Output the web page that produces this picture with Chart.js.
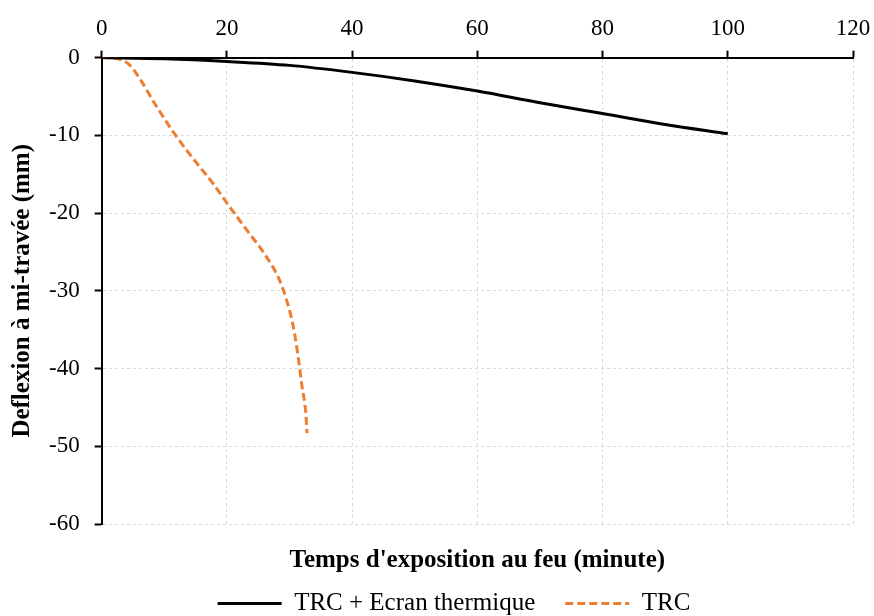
<!DOCTYPE html>
<html>
<head>
<meta charset="utf-8">
<script src="https://cdn.jsdelivr.net/npm/chart.js@4/dist/chart.umd.min.js"></script>
<style>
  html, body { margin: 0; padding: 0; background: #fff; }
  #wrap { width: 874px; height: 616px; }
</style>
</head>
<body>
<div id="wrap"><canvas id="myChart"></canvas></div>
<script>
// series (x = minutes, y = mm)
var ecranX = [0, 10, 20, 30, 40, 50, 60, 70, 80, 90, 100];
var ecranY = [0, -0.15, -0.5, -1.0, -1.9, -3.0, -4.3, -5.8, -7.2, -8.6, -9.8];

var trcX = [0, 2.8, 4.4, 6.0, 8.7, 11.9, 15.1, 17.7, 20.0, 23.1, 26.3, 28.4, 29.5, 30.5, 31.3, 32.0, 32.6, 32.8];
var trcY = [0, -0.2, -0.9, -2.6, -6.2, -10.1, -13.5, -16.1, -18.7, -22.1, -25.6, -28.6, -31.1, -34.2, -38.0, -42.3, -45.7, -48.3];

var labels = ['TRC + Ecran thermique', 'TRC'];

function pts(xs, ys) {
    return xs.map(function (x, i) { return {x: x, y: ys[i]}; });
}

var serif = "'Liberation Serif', 'DejaVu Serif', serif";
Chart.defaults.font.family = serif;
Chart.defaults.color = '#000';

var ctx = document.getElementById("myChart").getContext("2d");

var myChart = new Chart(ctx, {
    type: 'line',
    data: {
        datasets: [{
            label: labels[0],
            data: pts(ecranX, ecranY),
            borderColor: '#000000',
            backgroundColor: '#000000',
            borderWidth: 3,
            pointRadius: 0,
            cubicInterpolationMode: 'monotone'
        }, {
            label: labels[1],
            data: pts(trcX, trcY),
            borderColor: '#ED7D31',
            backgroundColor: '#ED7D31',
            borderWidth: 3,
            borderDash: [8, 4],
            pointRadius: 0,
            cubicInterpolationMode: 'monotone'
        }]
    },
    options: {
        responsive: true,
        maintainAspectRatio: false,
        animation: false,
        // negative right padding only moves the legend centre to the right
        layout: { padding: { left: 6, right: -28, top: 7, bottom: -10 } },
        plugins: {
            tooltip: { enabled: false },
            legend: {
                position: 'bottom',
                labels: {
                    usePointStyle: true,
                    pointStyle: 'line',
                    pointStyleWidth: 64,
                    font: { size: 25 },
                    color: '#000',
                    padding: 30,
                    generateLabels: function (chart) {
                        var items = Chart.defaults.plugins.legend.labels.generateLabels(chart);
                        items.forEach(function (it) {
                            var ds = chart.data.datasets[it.datasetIndex];
                            it.lineDash = ds.borderDash || [];
                            it.lineWidth = ds.borderWidth;
                            it.strokeStyle = ds.borderColor;
                            it.fontColor = '#000';
                        });
                        return items;
                    }
                }
            }
        },
        scales: {
            x: {
                type: 'linear',
                position: 'top',
                min: 0,
                max: 120,
                ticks: { stepSize: 20, font: { size: 23 }, color: '#000', padding: 8 },
                grid: {
                    color: '#d9d9d9',
                    lineWidth: 1,
                    tickColor: '#000',
                    tickWidth: 2,
                    tickLength: 7,
                    tickBorderDash: []
                },
                border: { display: true, color: '#000', width: 2, dash: [3, 3] },
                afterFit: function (scale) {
                    scale.paddingRight = 21;
                }
            },
            x2: {
                type: 'linear',
                position: 'bottom',
                ticks: { display: false },
                grid: { display: false, drawTicks: false },
                border: { display: false },
                title: {
                    display: true,
                    text: "Temps d'exposition au feu (minute)",
                    font: { size: 25, weight: 'bold' },
                    color: '#000',
                    padding: { top: 22, bottom: -15 }
                }
            },
            y: {
                min: -60,
                max: 0,
                ticks: { stepSize: 10, font: { size: 23 }, color: '#000', padding: 15 },
                grid: {
                    color: '#d9d9d9',
                    lineWidth: 1,
                    tickColor: '#000',
                    tickWidth: 2,
                    tickLength: 7,
                    tickBorderDash: []
                },
                border: { display: true, color: '#000', width: 2, dash: [3, 3] },
                title: {
                    display: true,
                    text: 'Deflexion à mi-travée (mm)',
                    font: { size: 25, weight: 'bold' },
                    color: '#000',
                    padding: { top: 2, bottom: -4 }
                }
            }
        }
    }
});
</script>
</body>
</html>
